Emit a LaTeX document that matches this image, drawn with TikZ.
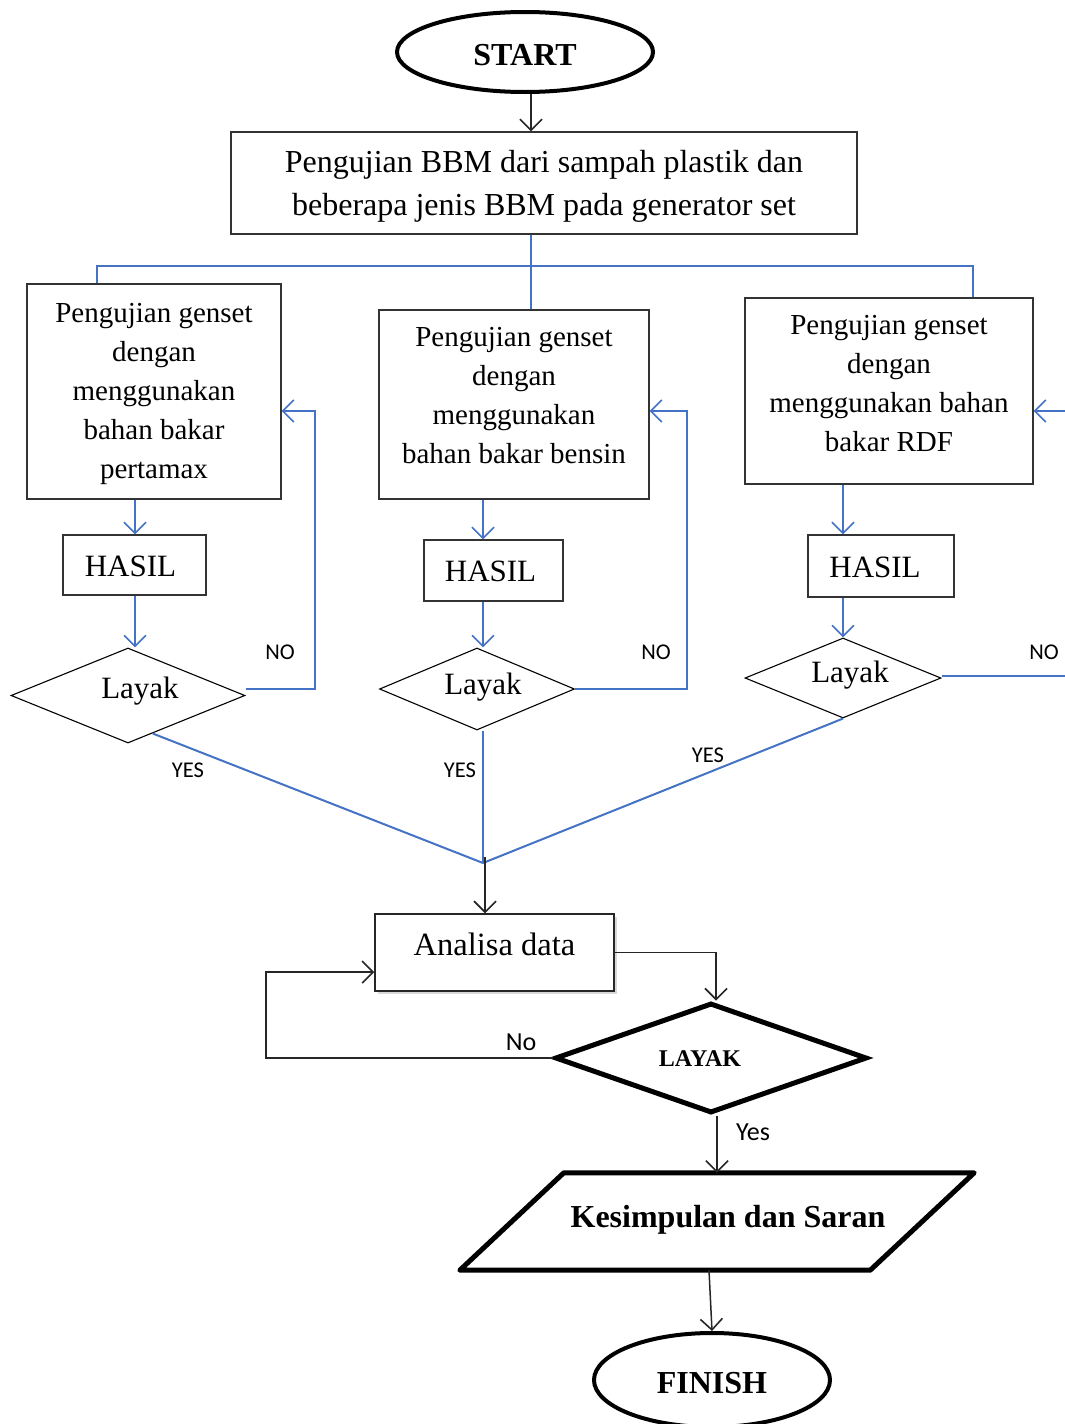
\documentclass[tikz,border=0pt]{standalone}
\usepackage{fontspec}
\setmainfont{Liberation Serif}
\newfontfamily\calfont{Carlito}
\usetikzlibrary{shapes.geometric,arrows.meta,shadows}
\definecolor{lineblue}{RGB}{68,114,196}
\newcommand\lift[2]{\raisebox{#1}[\height][\depth]{#2}}
\begin{document}
\begin{tikzpicture}[x=1pt,y=-1pt,
  font=\fontsize{29}{39}\selectfont,
  tip/.style={-{Straight Barb[length=11pt,width=22pt,line width=1.6pt]}},
  bline/.style={draw=lineblue,line width=2pt},
  kline/.style={draw=black!85,line width=1.5pt},
  term/.style={ellipse,draw,line width=4pt,inner sep=0pt,font=\fontsize{32}{38}\selectfont\bfseries},
  pbox/.style={rectangle,draw=black!80,line width=1.3pt,inner sep=0pt,align=center},
  hbox/.style={rectangle,draw=black!80,line width=1.3pt,inner sep=0pt,font=\fontsize{31}{36}\selectfont},
  dec/.style={diamond,draw,line width=1.1pt,inner sep=0pt,font=\fontsize{31}{36}\selectfont},
  lab/.style={font=\calfont\fontsize{22.5}{26}\selectfont,inner sep=0pt}
]
\useasboundingbox[fill=white] (0,0) rectangle (1065,1424);

% nodes
\node[term,minimum width=256pt,minimum height=80pt] (start) at (525,52) {\lift{-3pt}{START}};
\node[pbox,minimum width=626pt,minimum height=102pt,font=\fontsize{32}{43}\selectfont] (main) at (544,183)
  {\lift{-2pt}{\begin{tabular}{@{}c@{}}Pengujian BBM dari sampah plastik dan\\beberapa jenis BBM pada generator set\end{tabular}}};

\node[pbox,minimum width=254pt,minimum height=215pt] (b1) at (154,391.5)
  {\lift{-1pt}{\begin{tabular}{@{}c@{}}Pengujian genset\\dengan\\menggunakan\\bahan bakar\\pertamax\end{tabular}}};
\node[pbox,minimum width=270pt,minimum height=189pt] (b2) at (514,404.5)
  {\lift{7pt}{\begin{tabular}{@{}c@{}}Pengujian genset\\dengan\\menggunakan\\bahan bakar bensin\end{tabular}}};
\node[pbox,minimum width=288pt,minimum height=186pt] (b3) at (889,391)
  {\lift{6pt}{\begin{tabular}{@{}c@{}}Pengujian genset\\dengan\\menggunakan bahan\\bakar RDF\end{tabular}}};

\node[hbox,minimum width=143pt,minimum height=60pt] (h1) at (134.5,565) {\lift{-1pt}{\hspace*{-8pt}HASIL}};
\node[hbox,minimum width=139pt,minimum height=61pt] (h2) at (493.5,570.5) {\lift{-1pt}{\hspace*{-6pt}HASIL}};
\node[hbox,minimum width=146pt,minimum height=62pt] (h3) at (881,566) {\lift{-1pt}{\hspace*{-12pt}HASIL}};

\node[dec,minimum width=234pt,minimum height=95pt,label={[xshift=12pt,yshift=4pt,font=\fontsize{31}{36}\selectfont]center:Layak}] (d1) at (128,695.5) {};
\node[dec,minimum width=195pt,minimum height=82pt,label={[xshift=6pt,yshift=2pt,font=\fontsize{31}{36}\selectfont]center:Layak}] (d2) at (477,689) {};
\node[dec,minimum width=196pt,minimum height=80pt,label={[xshift=7pt,yshift=3pt,font=\fontsize{31}{36}\selectfont]center:Layak}] (d3) at (843,678) {};

\node[rectangle,draw=black!85,line width=1.5pt,inner sep=0pt,minimum width=239pt,minimum height=77pt,
  drop shadow={opacity=0.3,shadow xshift=3pt,shadow yshift=-3pt},fill=white,
  font=\fontsize{32.5}{38}\selectfont] (an) at (494.5,952.5) {\lift{8pt}{Analisa data}};

\node[diamond,draw,line width=5pt,inner sep=0pt,minimum width=312pt,minimum height=110pt,
  font=\fontsize{24}{28}\selectfont\bfseries] (L) at (711,1058) {\lift{-1pt}{\hspace*{-22pt}LAYAK}};

\node[rectangle,inner sep=0pt,minimum width=410pt,minimum height=97pt,
  font=\fontsize{32}{38}\selectfont\bfseries] (P) at (717,1221.5) {\lift{2pt}{\hspace*{22pt}Kesimpulan dan Saran}};
\draw[line width=5pt,line join=round] ([xshift=-52pt]P.south west) -- ([xshift=52pt]P.north west)
  -- ([xshift=52pt]P.north east) -- ([xshift=-52pt]P.south east) -- cycle;

\node[term,minimum width=236pt,minimum height=94pt] (F) at (712,1380) {\lift{-3pt}{FINISH}};

% helper coordinates
\coordinate (j) at (531,266);
\coordinate (jl) at (97,266);
\coordinate (jr) at (973,266);
\coordinate (c1) at (135,0);
\coordinate (c2) at (483,0);
\coordinate (c3) at (843,0);
\coordinate (n1) at (315,411);
\coordinate (n2) at (687,411);
\coordinate (n3) at (1066,411);
\coordinate (e3) at (1066,676);
\coordinate (m) at (483,863);
\coordinate (k) at (266,972);

% connectors
\draw[kline,tip] ([xshift=6pt]start.south) -- ([xshift=6pt]start.south |- main.north);

\draw[bline] (j |- main.south) -- (j);
\draw[bline] (jl |- b1.north) -- (jl) -- (jr) -- (jr |- b3.north);
\draw[bline] (j) -- (j |- b2.north);

\draw[bline,tip] (c1 |- b1.south) -- (c1 |- h1.north);
\draw[bline,tip] (c2 |- b2.south) -- (c2 |- h2.north);
\draw[bline,tip] (c3 |- b3.south) -- (c3 |- h3.north);
\draw[bline,tip] (c1 |- h1.south) -- (c1 |- d1.north);
\draw[bline,tip] (c2 |- h2.south) -- (c2 |- d2.north);
\draw[bline,tip] (c3 |- h3.south) -- (c3 |- d3.north);

\draw[bline,tip] ([yshift=7pt]d1.east) -| (n1) -- (n1 -| b1.east);
\draw[bline,tip] (d2.east) -| (n2) -- (n2 -| b2.east);
\draw[bline] ([yshift=2pt]d3.east) -- (e3);
\draw[bline,tip] (n3) -- (n3 -| b3.east);

\draw[bline] (d1.-57) -- (m);
\draw[bline] (c2 |- d2.south) -- (m);
\draw[bline] (d3.south) -- (m);

\draw[kline,tip] ([xshift=2pt,yshift=6pt]m) -- ([xshift=2pt]m |- an.north);
\draw[kline,tip] (an.east) -| ([xshift=5pt]L.north);
\draw[kline,tip] (L.west) -| (k) -- (k -| an.west);
\draw[kline,tip] (P.north |- L.south) -- (P.north);
\draw[kline,tip] ([xshift=-8pt]P.south) -- (F.north);

% labels
\node[lab] (no1) at (280,652) {NO};
\node[lab] (no2) at (656,652) {NO};
\node[lab] (no3) at (1044,652) {NO};
\node[lab] (yes1) at (188,770) {YES};
\node[lab] (yes2) at (460,770) {YES};
\node[lab] (yes3) at (708,755) {YES};
\node[lab,font=\calfont\fontsize{26}{30}\selectfont] (no4) at (521,1042) {No};
\node[lab,font=\calfont\fontsize{26}{30}\selectfont] (yes4) at (753,1132) {Yes};
\end{tikzpicture}
\end{document}
